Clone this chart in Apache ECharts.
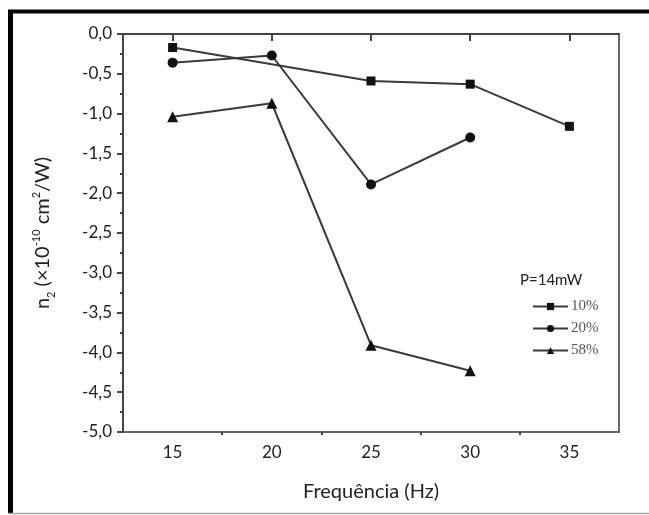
<!DOCTYPE html>
<html>
<head>
  <meta charset="utf-8" />
  <title>n2 vs frequencia</title>
  <script src="https://cdn.jsdelivr.net/npm/echarts@6.0.0/dist/echarts.min.js"></script>
  <style>
    html, body { margin: 0; padding: 0; background: #fff; }
  </style>
</head>
<body>
  <div id="main" style="width: 649px;height:515px;"></div>
  <script type="text/javascript">
    // dados
    const xMajorTicks = [15, 20, 25, 30, 35];
    const xMinorTicks = [17.5, 22.5, 27.5, 32.5];
    const s10x = [15, 25, 30, 35];
    const s10y = [-0.17, -0.59, -0.63, -1.16];
    const s20x = [15, 20, 25, 30];
    const s20y = [-0.36, -0.27, -1.89, -1.30];
    const s58x = [15, 20, 25, 30];
    const s58y = [-1.04, -0.87, -3.91, -4.23];
    const seriesNames = ['10%', '20%', '58%'];

    var myChart = echarts.init(document.getElementById('main'));

    let axisColor = '#444', fontColor = '#222';
    let sans = 'Lato, "Open Sans", sans-serif';

    function pairs(xs, ys) {
      return xs.map((x, i) => [x, ys[i]]);
    }

    function serie(name, data, symbol, size) {
      return {
        name: name,
        type: 'line',
        data: data,
        symbol: symbol,
        symbolSize: size,
        xAxisIndex: 0,
        lineStyle: { color: '#3a3a3a', width: 2 },
        itemStyle: { color: '#111' },
        animation: false
      };
    }

    var option = {
      backgroundColor: '#fff',
      title: {
        text: 'P=14mW',
        left: 515,
        top: 268,
        textStyle: { fontFamily: sans, fontSize: 15, fontWeight: 'normal', color: '#222' }
      },
      legend: {
        orient: 'vertical',
        left: 527,
        top: 294,
        itemWidth: 35,
        itemHeight: 9,
        itemGap: 7,
        data: seriesNames,
        textStyle: { fontFamily: '"Liberation Serif", serif', fontSize: 15, color: '#555', padding: [0, 0, 0, -2] }
      },
      grid: {
        left: 123,
        right: 30,
        top: 34,
        bottom: 83,
        show: true,
        borderColor: '#666',
        borderWidth: 2
      },
      xAxis: [{
        type: 'value',
        min: 12.5,
        max: 37.5,
        name: 'Frequência (Hz)',
        nameLocation: 'middle',
        nameGap: 50,
        nameTextStyle: { fontFamily: sans, fontSize: 20, color: fontColor },
        axisLine: { lineStyle: { color: axisColor, width: 2 } },
        axisTick: { customValues: xMajorTicks, length: 7, lineStyle: { color: axisColor, width: 2 } },
        axisLabel: { customValues: xMajorTicks, margin: 12, fontFamily: sans, fontSize: 17, color: fontColor },
        splitLine: { show: false }
      }, {
        type: 'value',
        min: 12.5,
        max: 37.5,
        position: 'bottom',
        axisLine: { show: false },
        axisTick: { customValues: xMinorTicks, length: 3, lineStyle: { color: axisColor, width: 2 } },
        axisLabel: { show: false },
        splitLine: { show: false }
      }],
      yAxis: {
        type: 'value',
        min: -5,
        max: 0,
        interval: 0.5,
        name: '{t|n}{sub|2}{t| (×10}{sup|-10}{t| cm}{sup|2}{t|/W)}',
        nameLocation: 'middle',
        nameRotate: 90,
        nameGap: 66,
        nameTextStyle: {
          fontFamily: sans, fontSize: 20, color: fontColor,
          rich: {
            t: { fontFamily: sans, fontSize: 20, color: fontColor, lineHeight: 28, verticalAlign: 'middle' },
            sup: { fontFamily: sans, fontSize: 11, color: fontColor, lineHeight: 28, verticalAlign: 'top', padding: [2, 0, 0, 0] },
            sub: { fontFamily: sans, fontSize: 11, color: fontColor, lineHeight: 28, verticalAlign: 'bottom' }
          }
        },
        axisLine: { lineStyle: { color: axisColor, width: 2 } },
        axisTick: { length: 6, lineStyle: { color: axisColor, width: 2 } },
        minorTick: { show: true, splitNumber: 2, length: 3, lineStyle: { color: axisColor, width: 2 } },
        axisLabel: {
          margin: 11,
          fontFamily: sans,
          fontSize: 17,
          color: fontColor,
          formatter: v => v.toFixed(1).replace('.', ',')
        },
        splitLine: { show: false }
      },
      graphic: [
        { type: 'line', shape: { x1: 8, y1: 11.5, x2: 649, y2: 11.5 }, style: { stroke: '#000', lineWidth: 4 } },
        { type: 'line', shape: { x1: 10.5, y1: 10, x2: 10.5, y2: 513 }, style: { stroke: '#000', lineWidth: 5 } },
        { type: 'line', shape: { x1: 8, y1: 513.5, x2: 649, y2: 513.5 }, style: { stroke: '#aaa', lineWidth: 1.5 } }
      ],
      series: [
        serie(seriesNames[0], pairs(s10x, s10y), 'rect', 9),
        serie(seriesNames[1], pairs(s20x, s20y), 'circle', 10),
        serie(seriesNames[2], pairs(s58x, s58y), 'triangle', 11)
      ]
    };

    myChart.setOption(option);
  </script>
</body>
</html>
